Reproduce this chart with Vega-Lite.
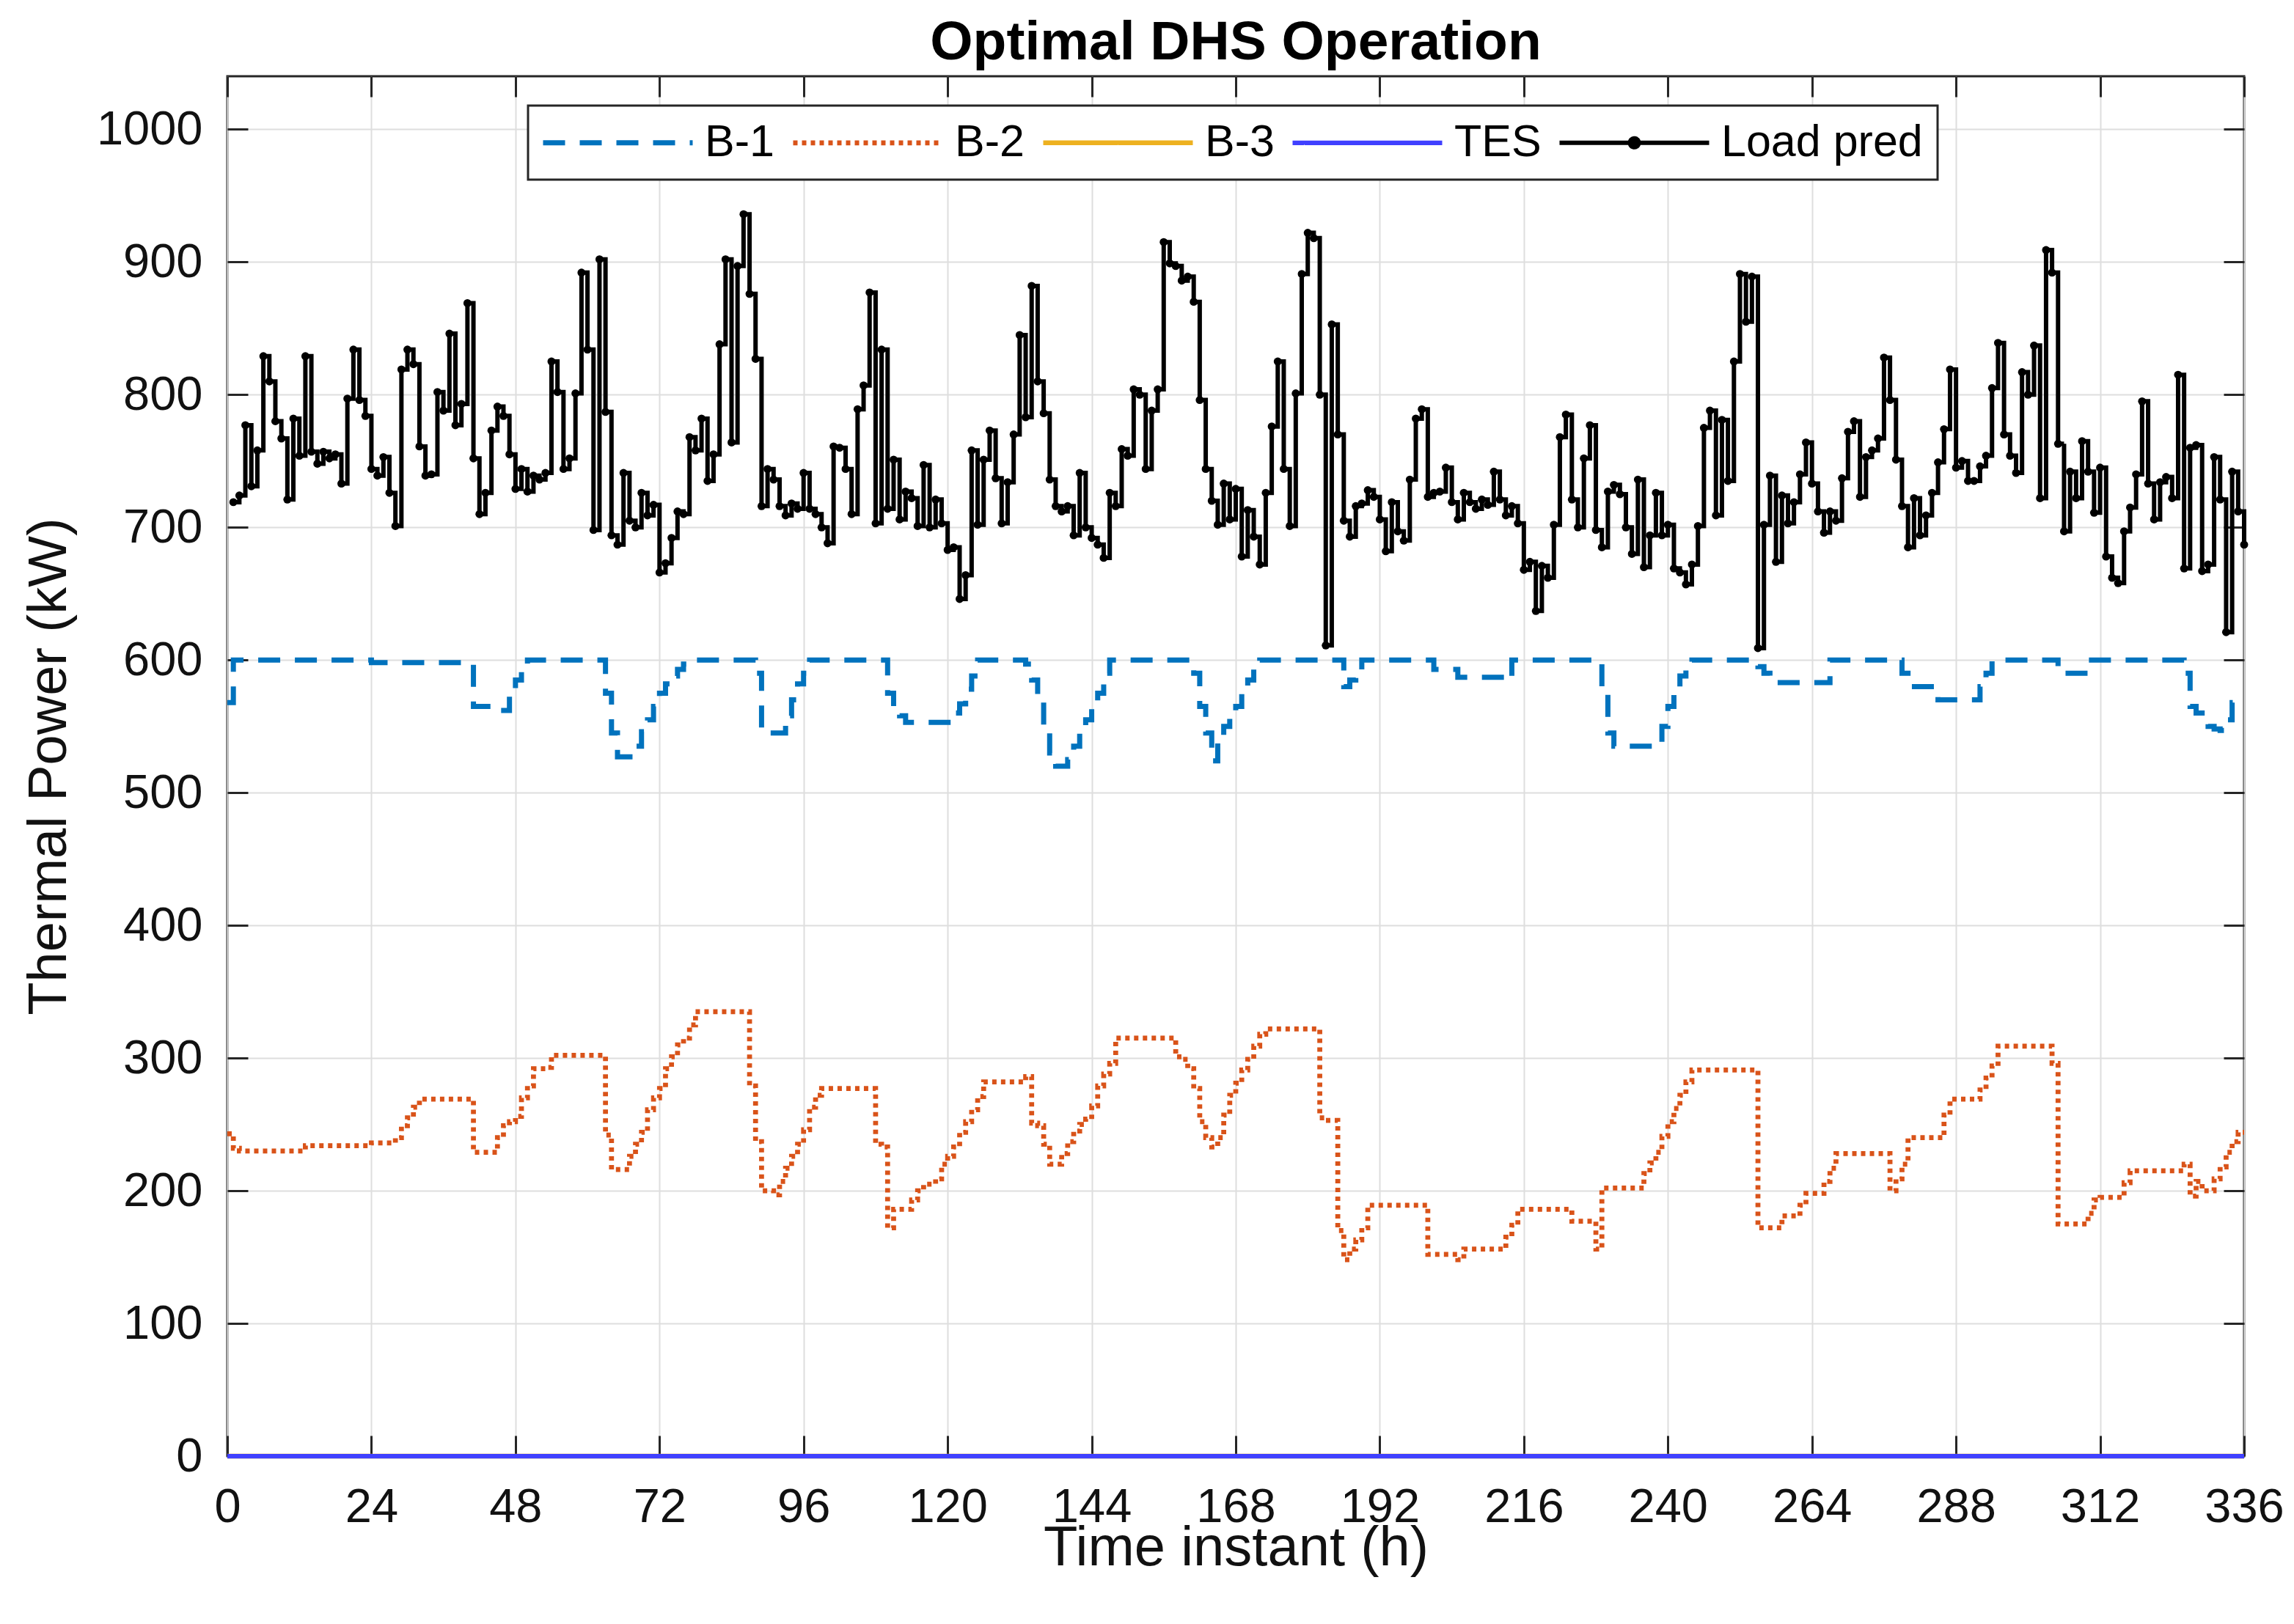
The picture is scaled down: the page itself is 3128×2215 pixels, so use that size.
{
  "$schema": "https://vega.github.io/schema/vega-lite/v6.json",
  "autosize": {"type": "none"},
  "width": 2750,
  "height": 1882,
  "padding": {"left": 310, "top": 104, "right": 68, "bottom": 229},
  "background": "white",
  "title": {"text": "Optimal DHS Operation", "font": "Liberation Sans", "fontSize": 75, "fontWeight": "bold", "color": "#000000", "anchor": "middle", "offset": 6},
  "data": {"values": [
    {"h":0,"B-1":568,"B-2":243,"B-3":0,"TES":0,"Load pred":null},
    {"h":1,"B-1":600,"B-2":232,"B-3":0,"TES":0,"Load pred":719},
    {"h":2,"B-1":600,"B-2":230,"B-3":0,"TES":0,"Load pred":724},
    {"h":3,"B-1":600,"B-2":230,"B-3":0,"TES":0,"Load pred":777},
    {"h":4,"B-1":600,"B-2":230,"B-3":0,"TES":0,"Load pred":731},
    {"h":5,"B-1":600,"B-2":230,"B-3":0,"TES":0,"Load pred":758},
    {"h":6,"B-1":600,"B-2":230,"B-3":0,"TES":0,"Load pred":829},
    {"h":7,"B-1":600,"B-2":230,"B-3":0,"TES":0,"Load pred":810},
    {"h":8,"B-1":600,"B-2":230,"B-3":0,"TES":0,"Load pred":780},
    {"h":9,"B-1":600,"B-2":230,"B-3":0,"TES":0,"Load pred":767},
    {"h":10,"B-1":600,"B-2":230,"B-3":0,"TES":0,"Load pred":721},
    {"h":11,"B-1":600,"B-2":230,"B-3":0,"TES":0,"Load pred":782},
    {"h":12,"B-1":600,"B-2":230,"B-3":0,"TES":0,"Load pred":754},
    {"h":13,"B-1":600,"B-2":234,"B-3":0,"TES":0,"Load pred":829},
    {"h":14,"B-1":600,"B-2":234,"B-3":0,"TES":0,"Load pred":757},
    {"h":15,"B-1":600,"B-2":234,"B-3":0,"TES":0,"Load pred":748},
    {"h":16,"B-1":600,"B-2":234,"B-3":0,"TES":0,"Load pred":757},
    {"h":17,"B-1":600,"B-2":234,"B-3":0,"TES":0,"Load pred":752},
    {"h":18,"B-1":600,"B-2":234,"B-3":0,"TES":0,"Load pred":755},
    {"h":19,"B-1":600,"B-2":234,"B-3":0,"TES":0,"Load pred":733},
    {"h":20,"B-1":600,"B-2":234,"B-3":0,"TES":0,"Load pred":797},
    {"h":21,"B-1":600,"B-2":234,"B-3":0,"TES":0,"Load pred":834},
    {"h":22,"B-1":600,"B-2":234,"B-3":0,"TES":0,"Load pred":796},
    {"h":23,"B-1":600,"B-2":234,"B-3":0,"TES":0,"Load pred":784},
    {"h":24,"B-1":598,"B-2":236,"B-3":0,"TES":0,"Load pred":744},
    {"h":25,"B-1":598,"B-2":236,"B-3":0,"TES":0,"Load pred":739},
    {"h":26,"B-1":598,"B-2":236,"B-3":0,"TES":0,"Load pred":753},
    {"h":27,"B-1":598,"B-2":236,"B-3":0,"TES":0,"Load pred":726},
    {"h":28,"B-1":598,"B-2":240,"B-3":0,"TES":0,"Load pred":701},
    {"h":29,"B-1":598,"B-2":249,"B-3":0,"TES":0,"Load pred":819},
    {"h":30,"B-1":598,"B-2":255,"B-3":0,"TES":0,"Load pred":834},
    {"h":31,"B-1":598,"B-2":263,"B-3":0,"TES":0,"Load pred":823},
    {"h":32,"B-1":598,"B-2":269,"B-3":0,"TES":0,"Load pred":761},
    {"h":33,"B-1":598,"B-2":269,"B-3":0,"TES":0,"Load pred":739},
    {"h":34,"B-1":598,"B-2":269,"B-3":0,"TES":0,"Load pred":740},
    {"h":35,"B-1":598,"B-2":269,"B-3":0,"TES":0,"Load pred":802},
    {"h":36,"B-1":598,"B-2":269,"B-3":0,"TES":0,"Load pred":788},
    {"h":37,"B-1":598,"B-2":269,"B-3":0,"TES":0,"Load pred":846},
    {"h":38,"B-1":598,"B-2":269,"B-3":0,"TES":0,"Load pred":777},
    {"h":39,"B-1":598,"B-2":269,"B-3":0,"TES":0,"Load pred":793},
    {"h":40,"B-1":598,"B-2":269,"B-3":0,"TES":0,"Load pred":869},
    {"h":41,"B-1":565,"B-2":229,"B-3":0,"TES":0,"Load pred":752},
    {"h":42,"B-1":565,"B-2":229,"B-3":0,"TES":0,"Load pred":710},
    {"h":43,"B-1":565,"B-2":229,"B-3":0,"TES":0,"Load pred":726},
    {"h":44,"B-1":562,"B-2":229,"B-3":0,"TES":0,"Load pred":773},
    {"h":45,"B-1":562,"B-2":240,"B-3":0,"TES":0,"Load pred":791},
    {"h":46,"B-1":562,"B-2":249,"B-3":0,"TES":0,"Load pred":784},
    {"h":47,"B-1":575,"B-2":252,"B-3":0,"TES":0,"Load pred":755},
    {"h":48,"B-1":585,"B-2":256,"B-3":0,"TES":0,"Load pred":729},
    {"h":49,"B-1":595,"B-2":270,"B-3":0,"TES":0,"Load pred":744},
    {"h":50,"B-1":600,"B-2":279,"B-3":0,"TES":0,"Load pred":727},
    {"h":51,"B-1":600,"B-2":292,"B-3":0,"TES":0,"Load pred":739},
    {"h":52,"B-1":600,"B-2":292,"B-3":0,"TES":0,"Load pred":736},
    {"h":53,"B-1":600,"B-2":293,"B-3":0,"TES":0,"Load pred":741},
    {"h":54,"B-1":600,"B-2":302,"B-3":0,"TES":0,"Load pred":825},
    {"h":55,"B-1":600,"B-2":302,"B-3":0,"TES":0,"Load pred":802},
    {"h":56,"B-1":600,"B-2":302,"B-3":0,"TES":0,"Load pred":744},
    {"h":57,"B-1":600,"B-2":302,"B-3":0,"TES":0,"Load pred":752},
    {"h":58,"B-1":600,"B-2":302,"B-3":0,"TES":0,"Load pred":801},
    {"h":59,"B-1":600,"B-2":302,"B-3":0,"TES":0,"Load pred":892},
    {"h":60,"B-1":600,"B-2":302,"B-3":0,"TES":0,"Load pred":834},
    {"h":61,"B-1":600,"B-2":302,"B-3":0,"TES":0,"Load pred":698},
    {"h":62,"B-1":600,"B-2":302,"B-3":0,"TES":0,"Load pred":902},
    {"h":63,"B-1":575,"B-2":242,"B-3":0,"TES":0,"Load pred":787},
    {"h":64,"B-1":545,"B-2":216,"B-3":0,"TES":0,"Load pred":694},
    {"h":65,"B-1":527,"B-2":216,"B-3":0,"TES":0,"Load pred":687},
    {"h":66,"B-1":527,"B-2":216,"B-3":0,"TES":0,"Load pred":741},
    {"h":67,"B-1":527,"B-2":226,"B-3":0,"TES":0,"Load pred":705},
    {"h":68,"B-1":535,"B-2":235,"B-3":0,"TES":0,"Load pred":700},
    {"h":69,"B-1":546,"B-2":244,"B-3":0,"TES":0,"Load pred":726},
    {"h":70,"B-1":555,"B-2":261,"B-3":0,"TES":0,"Load pred":709},
    {"h":71,"B-1":565,"B-2":270,"B-3":0,"TES":0,"Load pred":717},
    {"h":72,"B-1":575,"B-2":277,"B-3":0,"TES":0,"Load pred":666},
    {"h":73,"B-1":582,"B-2":292,"B-3":0,"TES":0,"Load pred":673},
    {"h":74,"B-1":588,"B-2":301,"B-3":0,"TES":0,"Load pred":692},
    {"h":75,"B-1":593,"B-2":310,"B-3":0,"TES":0,"Load pred":712},
    {"h":76,"B-1":597,"B-2":315,"B-3":0,"TES":0,"Load pred":710},
    {"h":77,"B-1":600,"B-2":325,"B-3":0,"TES":0,"Load pred":768},
    {"h":78,"B-1":600,"B-2":335,"B-3":0,"TES":0,"Load pred":758},
    {"h":79,"B-1":600,"B-2":335,"B-3":0,"TES":0,"Load pred":782},
    {"h":80,"B-1":600,"B-2":335,"B-3":0,"TES":0,"Load pred":735},
    {"h":81,"B-1":600,"B-2":335,"B-3":0,"TES":0,"Load pred":755},
    {"h":82,"B-1":600,"B-2":335,"B-3":0,"TES":0,"Load pred":838},
    {"h":83,"B-1":600,"B-2":335,"B-3":0,"TES":0,"Load pred":902},
    {"h":84,"B-1":600,"B-2":335,"B-3":0,"TES":0,"Load pred":764},
    {"h":85,"B-1":600,"B-2":335,"B-3":0,"TES":0,"Load pred":897},
    {"h":86,"B-1":600,"B-2":335,"B-3":0,"TES":0,"Load pred":936},
    {"h":87,"B-1":600,"B-2":279,"B-3":0,"TES":0,"Load pred":876},
    {"h":88,"B-1":590,"B-2":237,"B-3":0,"TES":0,"Load pred":827},
    {"h":89,"B-1":545,"B-2":200,"B-3":0,"TES":0,"Load pred":716},
    {"h":90,"B-1":545,"B-2":200,"B-3":0,"TES":0,"Load pred":744},
    {"h":91,"B-1":545,"B-2":197,"B-3":0,"TES":0,"Load pred":736},
    {"h":92,"B-1":545,"B-2":207,"B-3":0,"TES":0,"Load pred":716},
    {"h":93,"B-1":558,"B-2":217,"B-3":0,"TES":0,"Load pred":709},
    {"h":94,"B-1":570,"B-2":226,"B-3":0,"TES":0,"Load pred":718},
    {"h":95,"B-1":582,"B-2":235,"B-3":0,"TES":0,"Load pred":714},
    {"h":96,"B-1":590,"B-2":246,"B-3":0,"TES":0,"Load pred":741},
    {"h":97,"B-1":600,"B-2":263,"B-3":0,"TES":0,"Load pred":714},
    {"h":98,"B-1":600,"B-2":272,"B-3":0,"TES":0,"Load pred":710},
    {"h":99,"B-1":600,"B-2":277,"B-3":0,"TES":0,"Load pred":700},
    {"h":100,"B-1":600,"B-2":277,"B-3":0,"TES":0,"Load pred":688},
    {"h":101,"B-1":600,"B-2":277,"B-3":0,"TES":0,"Load pred":761},
    {"h":102,"B-1":600,"B-2":277,"B-3":0,"TES":0,"Load pred":760},
    {"h":103,"B-1":600,"B-2":277,"B-3":0,"TES":0,"Load pred":744},
    {"h":104,"B-1":600,"B-2":277,"B-3":0,"TES":0,"Load pred":710},
    {"h":105,"B-1":600,"B-2":277,"B-3":0,"TES":0,"Load pred":789},
    {"h":106,"B-1":600,"B-2":277,"B-3":0,"TES":0,"Load pred":807},
    {"h":107,"B-1":600,"B-2":277,"B-3":0,"TES":0,"Load pred":877},
    {"h":108,"B-1":600,"B-2":235,"B-3":0,"TES":0,"Load pred":703},
    {"h":109,"B-1":600,"B-2":233,"B-3":0,"TES":0,"Load pred":834},
    {"h":110,"B-1":575,"B-2":172,"B-3":0,"TES":0,"Load pred":714},
    {"h":111,"B-1":565,"B-2":186,"B-3":0,"TES":0,"Load pred":751},
    {"h":112,"B-1":558,"B-2":186,"B-3":0,"TES":0,"Load pred":706},
    {"h":113,"B-1":553,"B-2":186,"B-3":0,"TES":0,"Load pred":727},
    {"h":114,"B-1":553,"B-2":193,"B-3":0,"TES":0,"Load pred":722},
    {"h":115,"B-1":553,"B-2":200,"B-3":0,"TES":0,"Load pred":701},
    {"h":116,"B-1":553,"B-2":205,"B-3":0,"TES":0,"Load pred":747},
    {"h":117,"B-1":553,"B-2":205,"B-3":0,"TES":0,"Load pred":700},
    {"h":118,"B-1":553,"B-2":209,"B-3":0,"TES":0,"Load pred":721},
    {"h":119,"B-1":553,"B-2":220,"B-3":0,"TES":0,"Load pred":703},
    {"h":120,"B-1":553,"B-2":226,"B-3":0,"TES":0,"Load pred":683},
    {"h":121,"B-1":560,"B-2":233,"B-3":0,"TES":0,"Load pred":685},
    {"h":122,"B-1":567,"B-2":244,"B-3":0,"TES":0,"Load pred":646},
    {"h":123,"B-1":578,"B-2":252,"B-3":0,"TES":0,"Load pred":664},
    {"h":124,"B-1":588,"B-2":261,"B-3":0,"TES":0,"Load pred":758},
    {"h":125,"B-1":600,"B-2":271,"B-3":0,"TES":0,"Load pred":702},
    {"h":126,"B-1":600,"B-2":282,"B-3":0,"TES":0,"Load pred":751},
    {"h":127,"B-1":600,"B-2":282,"B-3":0,"TES":0,"Load pred":773},
    {"h":128,"B-1":600,"B-2":282,"B-3":0,"TES":0,"Load pred":737},
    {"h":129,"B-1":600,"B-2":282,"B-3":0,"TES":0,"Load pred":703},
    {"h":130,"B-1":600,"B-2":282,"B-3":0,"TES":0,"Load pred":734},
    {"h":131,"B-1":600,"B-2":282,"B-3":0,"TES":0,"Load pred":770},
    {"h":132,"B-1":600,"B-2":282,"B-3":0,"TES":0,"Load pred":845},
    {"h":133,"B-1":597,"B-2":286,"B-3":0,"TES":0,"Load pred":783},
    {"h":134,"B-1":585,"B-2":251,"B-3":0,"TES":0,"Load pred":882},
    {"h":135,"B-1":570,"B-2":249,"B-3":0,"TES":0,"Load pred":810},
    {"h":136,"B-1":545,"B-2":235,"B-3":0,"TES":0,"Load pred":786},
    {"h":137,"B-1":530,"B-2":220,"B-3":0,"TES":0,"Load pred":736},
    {"h":138,"B-1":520,"B-2":220,"B-3":0,"TES":0,"Load pred":716},
    {"h":139,"B-1":520,"B-2":228,"B-3":0,"TES":0,"Load pred":712},
    {"h":140,"B-1":525,"B-2":237,"B-3":0,"TES":0,"Load pred":716},
    {"h":141,"B-1":535,"B-2":245,"B-3":0,"TES":0,"Load pred":694},
    {"h":142,"B-1":545,"B-2":250,"B-3":0,"TES":0,"Load pred":741},
    {"h":143,"B-1":555,"B-2":254,"B-3":0,"TES":0,"Load pred":700},
    {"h":144,"B-1":565,"B-2":264,"B-3":0,"TES":0,"Load pred":692},
    {"h":145,"B-1":575,"B-2":279,"B-3":0,"TES":0,"Load pred":687},
    {"h":146,"B-1":590,"B-2":288,"B-3":0,"TES":0,"Load pred":677},
    {"h":147,"B-1":600,"B-2":296,"B-3":0,"TES":0,"Load pred":726},
    {"h":148,"B-1":600,"B-2":315,"B-3":0,"TES":0,"Load pred":716},
    {"h":149,"B-1":600,"B-2":315,"B-3":0,"TES":0,"Load pred":759},
    {"h":150,"B-1":600,"B-2":315,"B-3":0,"TES":0,"Load pred":754},
    {"h":151,"B-1":600,"B-2":315,"B-3":0,"TES":0,"Load pred":804},
    {"h":152,"B-1":600,"B-2":315,"B-3":0,"TES":0,"Load pred":800},
    {"h":153,"B-1":600,"B-2":315,"B-3":0,"TES":0,"Load pred":744},
    {"h":154,"B-1":600,"B-2":315,"B-3":0,"TES":0,"Load pred":788},
    {"h":155,"B-1":600,"B-2":315,"B-3":0,"TES":0,"Load pred":804},
    {"h":156,"B-1":600,"B-2":315,"B-3":0,"TES":0,"Load pred":915},
    {"h":157,"B-1":600,"B-2":315,"B-3":0,"TES":0,"Load pred":899},
    {"h":158,"B-1":600,"B-2":301,"B-3":0,"TES":0,"Load pred":897},
    {"h":159,"B-1":600,"B-2":299,"B-3":0,"TES":0,"Load pred":886},
    {"h":160,"B-1":600,"B-2":292,"B-3":0,"TES":0,"Load pred":889},
    {"h":161,"B-1":590,"B-2":277,"B-3":0,"TES":0,"Load pred":870},
    {"h":162,"B-1":565,"B-2":252,"B-3":0,"TES":0,"Load pred":796},
    {"h":163,"B-1":545,"B-2":240,"B-3":0,"TES":0,"Load pred":744},
    {"h":164,"B-1":524,"B-2":233,"B-3":0,"TES":0,"Load pred":720},
    {"h":165,"B-1":540,"B-2":240,"B-3":0,"TES":0,"Load pred":702},
    {"h":166,"B-1":550,"B-2":257,"B-3":0,"TES":0,"Load pred":733},
    {"h":167,"B-1":560,"B-2":272,"B-3":0,"TES":0,"Load pred":706},
    {"h":168,"B-1":565,"B-2":281,"B-3":0,"TES":0,"Load pred":729},
    {"h":169,"B-1":575,"B-2":291,"B-3":0,"TES":0,"Load pred":678},
    {"h":170,"B-1":585,"B-2":299,"B-3":0,"TES":0,"Load pred":713},
    {"h":171,"B-1":595,"B-2":309,"B-3":0,"TES":0,"Load pred":693},
    {"h":172,"B-1":600,"B-2":318,"B-3":0,"TES":0,"Load pred":672},
    {"h":173,"B-1":600,"B-2":322,"B-3":0,"TES":0,"Load pred":726},
    {"h":174,"B-1":600,"B-2":322,"B-3":0,"TES":0,"Load pred":776},
    {"h":175,"B-1":600,"B-2":322,"B-3":0,"TES":0,"Load pred":825},
    {"h":176,"B-1":600,"B-2":322,"B-3":0,"TES":0,"Load pred":744},
    {"h":177,"B-1":600,"B-2":322,"B-3":0,"TES":0,"Load pred":701},
    {"h":178,"B-1":600,"B-2":322,"B-3":0,"TES":0,"Load pred":801},
    {"h":179,"B-1":600,"B-2":322,"B-3":0,"TES":0,"Load pred":891},
    {"h":180,"B-1":600,"B-2":322,"B-3":0,"TES":0,"Load pred":922},
    {"h":181,"B-1":600,"B-2":322,"B-3":0,"TES":0,"Load pred":918},
    {"h":182,"B-1":600,"B-2":255,"B-3":0,"TES":0,"Load pred":800},
    {"h":183,"B-1":600,"B-2":253,"B-3":0,"TES":0,"Load pred":611},
    {"h":184,"B-1":600,"B-2":253,"B-3":0,"TES":0,"Load pred":853},
    {"h":185,"B-1":600,"B-2":170,"B-3":0,"TES":0,"Load pred":770},
    {"h":186,"B-1":580,"B-2":148,"B-3":0,"TES":0,"Load pred":705},
    {"h":187,"B-1":585,"B-2":156,"B-3":0,"TES":0,"Load pred":693},
    {"h":188,"B-1":590,"B-2":163,"B-3":0,"TES":0,"Load pred":716},
    {"h":189,"B-1":600,"B-2":172,"B-3":0,"TES":0,"Load pred":718},
    {"h":190,"B-1":600,"B-2":189,"B-3":0,"TES":0,"Load pred":728},
    {"h":191,"B-1":600,"B-2":189,"B-3":0,"TES":0,"Load pred":723},
    {"h":192,"B-1":600,"B-2":189,"B-3":0,"TES":0,"Load pred":706},
    {"h":193,"B-1":600,"B-2":189,"B-3":0,"TES":0,"Load pred":682},
    {"h":194,"B-1":600,"B-2":189,"B-3":0,"TES":0,"Load pred":719},
    {"h":195,"B-1":600,"B-2":189,"B-3":0,"TES":0,"Load pred":697},
    {"h":196,"B-1":600,"B-2":189,"B-3":0,"TES":0,"Load pred":690},
    {"h":197,"B-1":600,"B-2":189,"B-3":0,"TES":0,"Load pred":736},
    {"h":198,"B-1":600,"B-2":189,"B-3":0,"TES":0,"Load pred":782},
    {"h":199,"B-1":600,"B-2":189,"B-3":0,"TES":0,"Load pred":789},
    {"h":200,"B-1":600,"B-2":152,"B-3":0,"TES":0,"Load pred":723},
    {"h":201,"B-1":593,"B-2":152,"B-3":0,"TES":0,"Load pred":726},
    {"h":202,"B-1":593,"B-2":152,"B-3":0,"TES":0,"Load pred":727},
    {"h":203,"B-1":593,"B-2":152,"B-3":0,"TES":0,"Load pred":745},
    {"h":204,"B-1":593,"B-2":152,"B-3":0,"TES":0,"Load pred":719},
    {"h":205,"B-1":587,"B-2":148,"B-3":0,"TES":0,"Load pred":706},
    {"h":206,"B-1":587,"B-2":156,"B-3":0,"TES":0,"Load pred":726},
    {"h":207,"B-1":587,"B-2":156,"B-3":0,"TES":0,"Load pred":719},
    {"h":208,"B-1":587,"B-2":156,"B-3":0,"TES":0,"Load pred":714},
    {"h":209,"B-1":587,"B-2":156,"B-3":0,"TES":0,"Load pred":721},
    {"h":210,"B-1":587,"B-2":156,"B-3":0,"TES":0,"Load pred":717},
    {"h":211,"B-1":587,"B-2":156,"B-3":0,"TES":0,"Load pred":742},
    {"h":212,"B-1":587,"B-2":156,"B-3":0,"TES":0,"Load pred":721},
    {"h":213,"B-1":585,"B-2":165,"B-3":0,"TES":0,"Load pred":709},
    {"h":214,"B-1":600,"B-2":174,"B-3":0,"TES":0,"Load pred":716},
    {"h":215,"B-1":600,"B-2":186,"B-3":0,"TES":0,"Load pred":703},
    {"h":216,"B-1":600,"B-2":186,"B-3":0,"TES":0,"Load pred":668},
    {"h":217,"B-1":600,"B-2":186,"B-3":0,"TES":0,"Load pred":674},
    {"h":218,"B-1":600,"B-2":186,"B-3":0,"TES":0,"Load pred":637},
    {"h":219,"B-1":600,"B-2":186,"B-3":0,"TES":0,"Load pred":671},
    {"h":220,"B-1":600,"B-2":186,"B-3":0,"TES":0,"Load pred":662},
    {"h":221,"B-1":600,"B-2":186,"B-3":0,"TES":0,"Load pred":702},
    {"h":222,"B-1":600,"B-2":186,"B-3":0,"TES":0,"Load pred":768},
    {"h":223,"B-1":600,"B-2":186,"B-3":0,"TES":0,"Load pred":785},
    {"h":224,"B-1":600,"B-2":177,"B-3":0,"TES":0,"Load pred":721},
    {"h":225,"B-1":600,"B-2":177,"B-3":0,"TES":0,"Load pred":700},
    {"h":226,"B-1":600,"B-2":177,"B-3":0,"TES":0,"Load pred":752},
    {"h":227,"B-1":600,"B-2":177,"B-3":0,"TES":0,"Load pred":777},
    {"h":228,"B-1":600,"B-2":156,"B-3":0,"TES":0,"Load pred":698},
    {"h":229,"B-1":580,"B-2":202,"B-3":0,"TES":0,"Load pred":685},
    {"h":230,"B-1":545,"B-2":202,"B-3":0,"TES":0,"Load pred":727},
    {"h":231,"B-1":535,"B-2":202,"B-3":0,"TES":0,"Load pred":732},
    {"h":232,"B-1":535,"B-2":202,"B-3":0,"TES":0,"Load pred":725},
    {"h":233,"B-1":535,"B-2":202,"B-3":0,"TES":0,"Load pred":700},
    {"h":234,"B-1":535,"B-2":202,"B-3":0,"TES":0,"Load pred":680},
    {"h":235,"B-1":535,"B-2":202,"B-3":0,"TES":0,"Load pred":736},
    {"h":236,"B-1":535,"B-2":213,"B-3":0,"TES":0,"Load pred":670},
    {"h":237,"B-1":535,"B-2":221,"B-3":0,"TES":0,"Load pred":694},
    {"h":238,"B-1":537,"B-2":229,"B-3":0,"TES":0,"Load pred":726},
    {"h":239,"B-1":550,"B-2":241,"B-3":0,"TES":0,"Load pred":694},
    {"h":240,"B-1":565,"B-2":252,"B-3":0,"TES":0,"Load pred":702},
    {"h":241,"B-1":575,"B-2":262,"B-3":0,"TES":0,"Load pred":669},
    {"h":242,"B-1":588,"B-2":272,"B-3":0,"TES":0,"Load pred":666},
    {"h":243,"B-1":595,"B-2":282,"B-3":0,"TES":0,"Load pred":657},
    {"h":244,"B-1":600,"B-2":291,"B-3":0,"TES":0,"Load pred":672},
    {"h":245,"B-1":600,"B-2":291,"B-3":0,"TES":0,"Load pred":701},
    {"h":246,"B-1":600,"B-2":291,"B-3":0,"TES":0,"Load pred":775},
    {"h":247,"B-1":600,"B-2":291,"B-3":0,"TES":0,"Load pred":788},
    {"h":248,"B-1":600,"B-2":291,"B-3":0,"TES":0,"Load pred":709},
    {"h":249,"B-1":600,"B-2":291,"B-3":0,"TES":0,"Load pred":781},
    {"h":250,"B-1":600,"B-2":291,"B-3":0,"TES":0,"Load pred":735},
    {"h":251,"B-1":600,"B-2":291,"B-3":0,"TES":0,"Load pred":825},
    {"h":252,"B-1":600,"B-2":291,"B-3":0,"TES":0,"Load pred":891},
    {"h":253,"B-1":600,"B-2":291,"B-3":0,"TES":0,"Load pred":855},
    {"h":254,"B-1":600,"B-2":291,"B-3":0,"TES":0,"Load pred":889},
    {"h":255,"B-1":595,"B-2":172,"B-3":0,"TES":0,"Load pred":609},
    {"h":256,"B-1":590,"B-2":172,"B-3":0,"TES":0,"Load pred":702},
    {"h":257,"B-1":585,"B-2":172,"B-3":0,"TES":0,"Load pred":739},
    {"h":258,"B-1":583,"B-2":172,"B-3":0,"TES":0,"Load pred":674},
    {"h":259,"B-1":583,"B-2":181,"B-3":0,"TES":0,"Load pred":724},
    {"h":260,"B-1":583,"B-2":181,"B-3":0,"TES":0,"Load pred":703},
    {"h":261,"B-1":583,"B-2":181,"B-3":0,"TES":0,"Load pred":719},
    {"h":262,"B-1":583,"B-2":189,"B-3":0,"TES":0,"Load pred":740},
    {"h":263,"B-1":583,"B-2":198,"B-3":0,"TES":0,"Load pred":764},
    {"h":264,"B-1":583,"B-2":198,"B-3":0,"TES":0,"Load pred":733},
    {"h":265,"B-1":583,"B-2":198,"B-3":0,"TES":0,"Load pred":712},
    {"h":266,"B-1":583,"B-2":207,"B-3":0,"TES":0,"Load pred":696},
    {"h":267,"B-1":600,"B-2":217,"B-3":0,"TES":0,"Load pred":712},
    {"h":268,"B-1":600,"B-2":228,"B-3":0,"TES":0,"Load pred":705},
    {"h":269,"B-1":600,"B-2":228,"B-3":0,"TES":0,"Load pred":737},
    {"h":270,"B-1":600,"B-2":228,"B-3":0,"TES":0,"Load pred":772},
    {"h":271,"B-1":600,"B-2":228,"B-3":0,"TES":0,"Load pred":780},
    {"h":272,"B-1":600,"B-2":228,"B-3":0,"TES":0,"Load pred":723},
    {"h":273,"B-1":600,"B-2":228,"B-3":0,"TES":0,"Load pred":753},
    {"h":274,"B-1":600,"B-2":228,"B-3":0,"TES":0,"Load pred":758},
    {"h":275,"B-1":600,"B-2":228,"B-3":0,"TES":0,"Load pred":767},
    {"h":276,"B-1":600,"B-2":228,"B-3":0,"TES":0,"Load pred":828},
    {"h":277,"B-1":600,"B-2":200,"B-3":0,"TES":0,"Load pred":796},
    {"h":278,"B-1":600,"B-2":209,"B-3":0,"TES":0,"Load pred":751},
    {"h":279,"B-1":590,"B-2":220,"B-3":0,"TES":0,"Load pred":716},
    {"h":280,"B-1":580,"B-2":240,"B-3":0,"TES":0,"Load pred":685},
    {"h":281,"B-1":580,"B-2":240,"B-3":0,"TES":0,"Load pred":722},
    {"h":282,"B-1":580,"B-2":240,"B-3":0,"TES":0,"Load pred":694},
    {"h":283,"B-1":580,"B-2":240,"B-3":0,"TES":0,"Load pred":709},
    {"h":284,"B-1":580,"B-2":240,"B-3":0,"TES":0,"Load pred":726},
    {"h":285,"B-1":570,"B-2":240,"B-3":0,"TES":0,"Load pred":749},
    {"h":286,"B-1":570,"B-2":257,"B-3":0,"TES":0,"Load pred":774},
    {"h":287,"B-1":570,"B-2":269,"B-3":0,"TES":0,"Load pred":819},
    {"h":288,"B-1":570,"B-2":269,"B-3":0,"TES":0,"Load pred":745},
    {"h":289,"B-1":570,"B-2":269,"B-3":0,"TES":0,"Load pred":750},
    {"h":290,"B-1":570,"B-2":269,"B-3":0,"TES":0,"Load pred":735},
    {"h":291,"B-1":570,"B-2":269,"B-3":0,"TES":0,"Load pred":735},
    {"h":292,"B-1":580,"B-2":276,"B-3":0,"TES":0,"Load pred":746},
    {"h":293,"B-1":590,"B-2":285,"B-3":0,"TES":0,"Load pred":754},
    {"h":294,"B-1":600,"B-2":294,"B-3":0,"TES":0,"Load pred":805},
    {"h":295,"B-1":600,"B-2":309,"B-3":0,"TES":0,"Load pred":839},
    {"h":296,"B-1":600,"B-2":309,"B-3":0,"TES":0,"Load pred":770},
    {"h":297,"B-1":600,"B-2":309,"B-3":0,"TES":0,"Load pred":754},
    {"h":298,"B-1":600,"B-2":309,"B-3":0,"TES":0,"Load pred":741},
    {"h":299,"B-1":600,"B-2":309,"B-3":0,"TES":0,"Load pred":817},
    {"h":300,"B-1":600,"B-2":309,"B-3":0,"TES":0,"Load pred":800},
    {"h":301,"B-1":600,"B-2":309,"B-3":0,"TES":0,"Load pred":837},
    {"h":302,"B-1":600,"B-2":309,"B-3":0,"TES":0,"Load pred":722},
    {"h":303,"B-1":600,"B-2":309,"B-3":0,"TES":0,"Load pred":909},
    {"h":304,"B-1":600,"B-2":296,"B-3":0,"TES":0,"Load pred":892},
    {"h":305,"B-1":590,"B-2":175,"B-3":0,"TES":0,"Load pred":763},
    {"h":306,"B-1":590,"B-2":175,"B-3":0,"TES":0,"Load pred":697},
    {"h":307,"B-1":590,"B-2":175,"B-3":0,"TES":0,"Load pred":742},
    {"h":308,"B-1":590,"B-2":175,"B-3":0,"TES":0,"Load pred":722},
    {"h":309,"B-1":590,"B-2":175,"B-3":0,"TES":0,"Load pred":765},
    {"h":310,"B-1":600,"B-2":183,"B-3":0,"TES":0,"Load pred":742},
    {"h":311,"B-1":600,"B-2":193,"B-3":0,"TES":0,"Load pred":711},
    {"h":312,"B-1":600,"B-2":195,"B-3":0,"TES":0,"Load pred":745},
    {"h":313,"B-1":600,"B-2":195,"B-3":0,"TES":0,"Load pred":678},
    {"h":314,"B-1":600,"B-2":195,"B-3":0,"TES":0,"Load pred":662},
    {"h":315,"B-1":600,"B-2":195,"B-3":0,"TES":0,"Load pred":658},
    {"h":316,"B-1":600,"B-2":206,"B-3":0,"TES":0,"Load pred":697},
    {"h":317,"B-1":600,"B-2":215,"B-3":0,"TES":0,"Load pred":715},
    {"h":318,"B-1":600,"B-2":215,"B-3":0,"TES":0,"Load pred":740},
    {"h":319,"B-1":600,"B-2":215,"B-3":0,"TES":0,"Load pred":795},
    {"h":320,"B-1":600,"B-2":215,"B-3":0,"TES":0,"Load pred":733},
    {"h":321,"B-1":600,"B-2":215,"B-3":0,"TES":0,"Load pred":706},
    {"h":322,"B-1":600,"B-2":215,"B-3":0,"TES":0,"Load pred":734},
    {"h":323,"B-1":600,"B-2":215,"B-3":0,"TES":0,"Load pred":738},
    {"h":324,"B-1":600,"B-2":215,"B-3":0,"TES":0,"Load pred":722},
    {"h":325,"B-1":600,"B-2":215,"B-3":0,"TES":0,"Load pred":815},
    {"h":326,"B-1":590,"B-2":220,"B-3":0,"TES":0,"Load pred":669},
    {"h":327,"B-1":565,"B-2":196,"B-3":0,"TES":0,"Load pred":760},
    {"h":328,"B-1":560,"B-2":207,"B-3":0,"TES":0,"Load pred":762},
    {"h":329,"B-1":553,"B-2":200,"B-3":0,"TES":0,"Load pred":667},
    {"h":330,"B-1":550,"B-2":200,"B-3":0,"TES":0,"Load pred":672},
    {"h":331,"B-1":548,"B-2":209,"B-3":0,"TES":0,"Load pred":753},
    {"h":332,"B-1":547,"B-2":218,"B-3":0,"TES":0,"Load pred":721},
    {"h":333,"B-1":555,"B-2":229,"B-3":0,"TES":0,"Load pred":621},
    {"h":334,"B-1":568,"B-2":237,"B-3":0,"TES":0,"Load pred":742},
    {"h":335,"B-1":568,"B-2":244,"B-3":0,"TES":0,"Load pred":712},
    {"h":336,"B-1":568,"B-2":244,"B-3":0,"TES":0,"Load pred":687}
  ]},
  "transform": [
    {"fold": ["B-1", "B-2", "B-3", "TES", "Load pred"], "as": ["series", "power"]},
    {"filter": "isValid(datum.power)"}
  ],
  "encoding": {
    "x": {
      "field": "h", "type": "quantitative",
      "scale": {"domain": [0, 336], "nice": false, "zero": false},
      "axis": {
        "orient": "bottom",
        "values": [0, 24, 48, 72, 96, 120, 144, 168, 192, 216, 240, 264, 288, 312, 336],
        "title": "Time instant (h)",
        "labelFlush": false, "labelOverlap": false,
        "tickSize": -28, "labelPadding": 66,
        "titlePadding": -14
      }
    },
    "y": {
      "field": "power", "type": "quantitative",
      "scale": {"domain": [0, 1040], "nice": false},
      "axis": {
        "orient": "left",
        "values": [0, 100, 200, 300, 400, 500, 600, 700, 800, 900, 1000],
        "format": "d",
        "title": "Thermal Power (kW)",
        "titleFontSize": 74,
        "labelOverlap": false,
        "tickSize": -28, "labelPadding": 62,
        "titlePadding": 26
      }
    }
  },
  "layer": [
    {
      "mark": {"type": "line", "interpolate": "step-after", "strokeCap": "butt", "strokeJoin": "miter"},
      "encoding": {
        "color": {
          "field": "series", "type": "nominal",
          "scale": {"domain": ["B-1", "B-2", "B-3", "TES", "Load pred"], "range": ["#0072BD", "#D95319", "#EDB120", "#4040FF", "#000000"]},
          "legend": {
            "title": null,
            "orient": "none", "legendX": 410, "legendY": 40,
            "direction": "horizontal", "columns": 5,
            "symbolType": "stroke", "symbolSize": 400, "symbolStrokeWidth": 4,
            "labelFont": "Liberation Sans", "labelFontSize": 61, "labelColor": "#000000", "labelLimit": 600,
            "labelOffset": 160, "columnPadding": 12, "padding": 20,
            "fillColor": "#ffffff", "strokeColor": "#262626",
            "encode": {
              "legend": {"update": {"strokeWidth": {"value": 3}}},
              "symbols": {"update": {
                "shape": {"signal": "datum.value === 'Load pred' ? 'M-3,0H17.4M6.6,0A0.6,0.6,0,1,1,7.8,0A0.6,0.6,0,1,1,6.6,0' : 'M-3,0H17.4'"},
                "fill": {"signal": "datum.value === 'Load pred' ? '#000000' : 'transparent'"},
                "strokeDash": {"signal": "datum.value === 'B-1' ? [30, 20] : datum.value === 'B-2' ? [6, 6] : [1, 0]"},
                "strokeWidth": {"signal": "datum.value === 'B-1' ? 7 : datum.value === 'B-2' ? 6 : 4"}
              }}
            }
          }
        },
        "strokeDash": {
          "field": "series", "type": "nominal",
          "scale": {"domain": ["B-1", "B-2", "B-3", "TES", "Load pred"], "range": [[30, 20], [6, 6], [1, 0], [1, 0], [1, 0]]},
          "legend": null
        },
        "strokeWidth": {
          "field": "series", "type": "nominal",
          "scale": {"domain": ["B-1", "B-2", "B-3", "TES", "Load pred"], "range": [7, 6, 3, 4, 3.5]},
          "legend": null
        }
      }
    },
    {
      "transform": [{"filter": "datum.series === 'Load pred'"}],
      "mark": {"type": "point", "filled": true, "size": 120, "opacity": 1, "color": "#000000"},
      "encoding": {
        "x": {
          "field": "h", "type": "quantitative",
          "axis": {"orient": "top", "values": [0, 24, 48, 72, 96, 120, 144, 168, 192, 216, 240, 264, 288, 312, 336], "labels": false, "grid": false, "title": null, "tickSize": -28}
        },
        "y": {
          "field": "power", "type": "quantitative",
          "axis": {"orient": "right", "values": [0, 100, 200, 300, 400, 500, 600, 700, 800, 900, 1000], "labels": false, "grid": false, "title": null, "tickSize": -28}
        }
      }
    }
  ],
  "resolve": {"axis": {"x": "independent", "y": "independent"}},
  "config": {
    "view": {"stroke": "#262626", "strokeWidth": 3},
    "axis": {
      "domain": false,
      "grid": true, "gridColor": "#dedede", "gridWidth": 2,
      "ticks": true, "tickColor": "#262626", "tickWidth": 3,
      "labelFont": "Liberation Sans", "labelFontSize": 65, "labelColor": "#111111",
      "titleFont": "Liberation Sans", "titleFontSize": 76, "titleFontWeight": "normal", "titleColor": "#111111"
    }
  }
}
